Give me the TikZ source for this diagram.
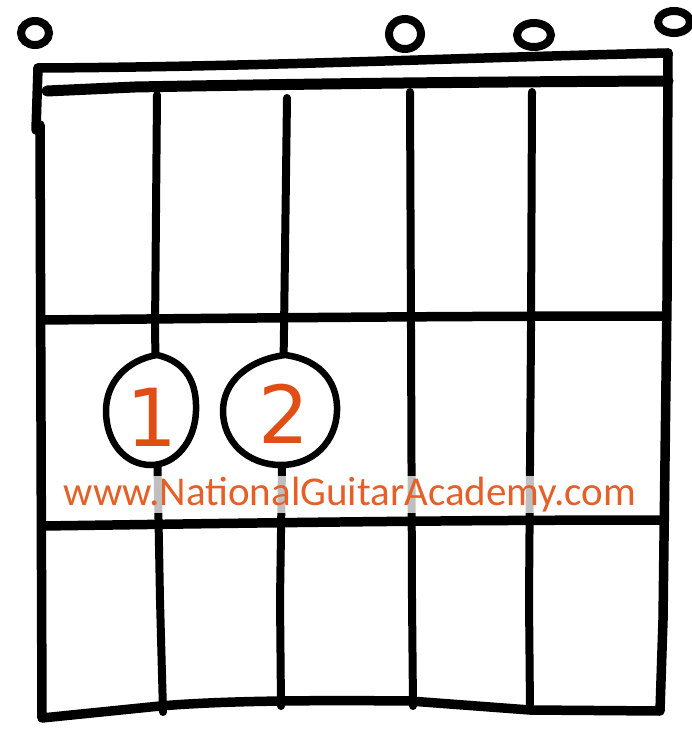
\documentclass[tikz,border=0pt]{standalone}
\usepackage{fontspec}
\newfontfamily\urlfont{Carlito}
\newfontfamily\digitfont{DejaVu Sans}
\definecolor{ngaorange}{RGB}{228,96,40}
\definecolor{digitorange}{RGB}{224,78,22}

\tikzset{
  chordline/.style={line width=9.5pt, line cap=round, line join=round},
  stringline/.style={line width=8pt, line cap=round},
  openring/.style={line width=8pt},
  fingertip/.style={line width=6.5pt, fill=white},
  fingernum/.style={text=digitorange, font=\digitfont\fontsize{80}{84}\selectfont, inner sep=0pt},
}

\begin{document}
\begin{tikzpicture}[x=1pt, y=-1pt]
    \useasboundingbox (0,0) rectangle (691,741);

    % Open strings
    \draw[openring] (35,33) ellipse [x radius=14, y radius=12];
    \draw[openring] (405,34) ellipse [x radius=16, y radius=15];
    \draw[openring] (534,35) ellipse [x radius=17, y radius=12];
    \draw[openring] (674,22) ellipse [x radius=16, y radius=11];

    % Strings
    \draw[stringline] (157,95) -- (155,330) -- (160,600) -- (163,712);
    \draw[stringline] (287,98) -- (284,330) -- (280,600) -- (281,706);
    \draw[stringline] (410,92) -- (411,330) -- (412,600) -- (413,706);
    \draw[stringline] (532,92) -- (531,330) -- (529,600) -- (530,710);

    % Frets
    \draw[chordline] (42,320) .. controls (250,318) and (450,316) .. (664,316);
    \draw[chordline] (43,526) .. controls (250,523) and (450,520) .. (662,520);

    % Nut
    \draw[chordline] (38,68) .. controls (250,67) and (450,58) .. (668,53);
    \draw[line width=11pt, line cap=round] (47,91) -- (135,87) .. controls (300,84) and (450,82) .. (668,81);

    % Frame
    \draw[chordline] (38,68) -- (36,130);
    \draw[chordline] (40,125) -- (42,718) -- (160,706) .. controls (220,701) and (300,700) .. (410,701)
        -- (530,710) -- (660,711) -- (663,620) -- (667,300) -- (668,53);

    % Fingers
    \begin{scope}[shift={(0,0)}]
        \draw[fingertip] (157,355) .. controls (188,362) and (197,385) .. (196,411)
            .. controls (195,442) and (175,465) .. (151,465)
            .. controls (125,465) and (106,442) .. (106,411)
            .. controls (106,382) and (127,360) .. (157,355) -- cycle;
    \end{scope}
    \begin{scope}[shift={(128,0)}]
        \draw[fingertip] (157,355) .. controls (195,360) and (210,385) .. (209,411)
            .. controls (208,442) and (185,465) .. (153,465)
            .. controls (120,465) and (95,442) .. (95,411)
            .. controls (95,382) and (120,360) .. (157,355) -- cycle;
    \end{scope}
    \node[fingernum] (f1) at (152,417) {1};
    \node[fingernum] (f2) at (284,414) {2};

    % Website
    \node[anchor=base, text=ngaorange, font=\urlfont\fontsize{41}{44}\selectfont,
          fill=white, fill opacity=0.75, text opacity=1, inner sep=1pt] (url) at (350,505)
          {www.NationalGuitarAcademy.com};
\end{tikzpicture}
\end{document}
